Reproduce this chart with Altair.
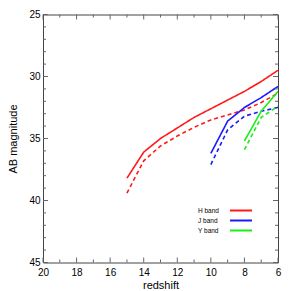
import altair as alt
import pandas as pd

# ---- data ----
z_H = [15, 14, 13, 12, 11, 10, 9, 8, 7, 6]
H_solid = [38.2, 36.1, 35.0, 34.15, 33.3, 32.6, 31.9, 31.2, 30.4, 29.5]
H_dashed = [39.4, 36.8, 35.6, 34.8, 34.1, 33.5, 33.1, 32.7, 32.1, 31.35]
z_J = [10, 9, 8, 7, 6]
J_solid = [36.2, 33.6, 32.5, 31.7, 30.8]
J_dashed = [37.1, 34.3, 33.2, 32.8, 32.5]
z_Y = [8, 7, 6]
Y_solid = [35.2, 32.8, 31.2]
Y_dashed = [35.9, 33.3, 32.4]

bands = ["H band", "J band", "Y band"]
colors = ["#ff1a1a", "#1a1aff", "#1aee1a"]

x_major = [20, 18, 16, 14, 12, 10, 8, 6]
x_minor = [19, 17, 15, 13, 11, 9, 7]
y_major = [25, 30, 35, 40, 45]
y_minor = [m for m in range(25, 46) if m % 5 != 0]

W, H = 235, 248
FONT = "Liberation Sans"

rows = []
for band, zs, s, d in [("H band", z_H, H_solid, H_dashed),
                       ("J band", z_J, J_solid, J_dashed),
                       ("Y band", z_Y, Y_solid, Y_dashed)]:
    for z, m in zip(zs, s):
        rows.append({"z": z, "mag": m, "band": band, "style": "solid", "series": band + " solid"})
    for z, m in zip(zs, d):
        rows.append({"z": z, "mag": m, "band": band, "style": "dashed", "series": band + " dashed"})
df = pd.DataFrame(rows)

xscale = alt.Scale(domain=[20, 6], nice=False, zero=False)
yscale = alt.Scale(domain=[45, 25], nice=False, zero=False)

xaxis = alt.Axis(title="redshift", values=x_major, grid=False, ticks=False,
                 domain=False, labelFontSize=10, labelPadding=5,
                 labelFlush=False, labelOverlap=False, labelBound=False,
                 titleFontSize=11, titleFontWeight="normal", titlePadding=2,
                 labelFont=FONT, titleFont=FONT, labelColor="#000")
yaxis = alt.Axis(title="AB magnitude", values=y_major, grid=False, ticks=False,
                 domain=False, labelFontSize=10, labelPadding=3,
                 labelFlush=False, labelOverlap=False, labelBound=False,
                 titleFontSize=11, titleFontWeight="normal", titlePadding=10,
                 labelFont=FONT, titleFont=FONT, labelColor="#000")

X = lambda f: alt.X(f, scale=xscale, axis=xaxis, title="redshift")
Y = lambda f: alt.Y(f, scale=yscale, axis=yaxis, title="AB magnitude")

lines = alt.Chart(df).mark_line(strokeWidth=1.6, clip=True).encode(
    x=X("z:Q"),
    y=Y("mag:Q"),
    color=alt.Color("band:N", scale=alt.Scale(domain=bands, range=colors), legend=None),
    strokeDash=alt.StrokeDash("style:N",
                              scale=alt.Scale(domain=["solid", "dashed"], range=[[1, 0], [4, 3]]),
                              legend=None),
    detail="series:N",
)

tick_color = "#666"

def xticks(vals, length):
    d = pd.DataFrame({"z": vals})
    bottom = alt.Chart(d).mark_rule(color=tick_color, strokeWidth=1).encode(
        x=X("z:Q"), y=alt.value(H), y2=alt.value(H - length))
    top = alt.Chart(d).mark_rule(color=tick_color, strokeWidth=1).encode(
        x=X("z:Q"), y=alt.value(0), y2=alt.value(length))
    return [bottom, top]

def yticks(vals, length):
    d = pd.DataFrame({"mag": vals})
    left = alt.Chart(d).mark_rule(color=tick_color, strokeWidth=1).encode(
        y=Y("mag:Q"), x=alt.value(0), x2=alt.value(length))
    right = alt.Chart(d).mark_rule(color=tick_color, strokeWidth=1).encode(
        y=Y("mag:Q"), x=alt.value(W), x2=alt.value(W - length))
    return [left, right]

ticks = xticks(x_major, 5) + xticks(x_minor, 3) + yticks(y_major, 5) + yticks(y_minor, 3)

# manual legend (labels left of the line samples)
leg_layers = []
for i, (b, c) in enumerate(zip(bands, colors)):
    ld = pd.DataFrame({"band": [b]})
    ypix = 196 + i * 10
    leg_layers.append(alt.Chart(ld).mark_text(align="left", baseline="middle", fontSize=6.5,
                                              font=FONT, color="#000").encode(
        text="band:N", x=alt.value(155), y=alt.value(ypix)))
    leg_layers.append(alt.Chart(ld).mark_rule(color=c, strokeWidth=2).encode(
        x=alt.value(187), x2=alt.value(209), y=alt.value(ypix)))

chart = alt.layer(lines, *ticks, *leg_layers).properties(
    width=W, height=H,
    padding={"left": 35, "top": 6.5, "right": 5, "bottom": 27},
    autosize=alt.AutoSizeParams(type="none"),
).configure_view(stroke="#444", strokeWidth=1)

chart.save("out.html", embed_options={"renderer": "svg", "actions": False})
